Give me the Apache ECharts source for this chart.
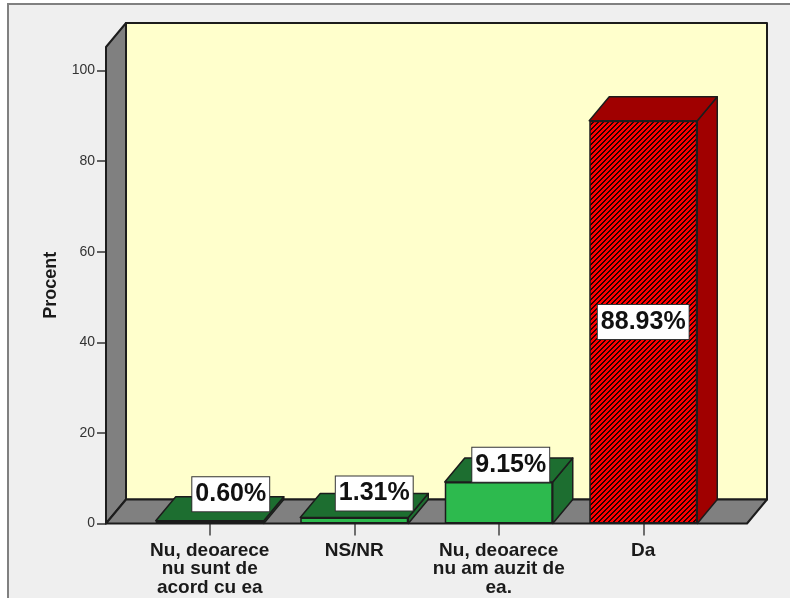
<!DOCTYPE html>
<html>
<head>
<meta charset="utf-8">
<style>
html, body { margin: 0; padding: 0; background: #fff; }
#chart { width: 790px; height: 598px; }
</style>
<script src="https://cdn.jsdelivr.net/npm/echarts@6/dist/echarts.min.js"></script>
</head>
<body>
<div id="chart"></div>
<script>
const categories = ['Nu, deoarece\nnu sunt de\nacord cu ea', 'NS/NR', 'Nu, deoarece\nnu am auzit de\nea.', 'Da']
const values = [0.60, 1.31, 9.15, 88.93]
const valueLabels = ['0.60%', '1.31%', '9.15%', '88.93%']
const yTicks = [0, 20, 40, 60, 80, 100]

// depth of the fake 3d box, in pixels
const depthX = 20
const depthY = -24
const edge = '#1c1c1c'

// data labels were moved by hand in the original
const labelNudge = [[21, -28], [20, -27], [12, -38], [0, 0]]

// red and black diagonal tile for the hatched bar
const makeHatch = () => {
    const tile = document.createElement('canvas')
    tile.width = 5
    tile.height = 5
    const ctx = tile.getContext('2d')
    ctx.fillStyle = '#ff0000'
    ctx.fillRect(0, 0, 5, 5)
    ctx.fillStyle = '#2a0000'
    for (let y = 0; y < 5; y++) {
        ctx.fillRect((4 - y + 5) % 5, y, 1, 1)
        ctx.fillRect((5 - y + 5) % 5, y, 1, 1)
    }
    return { image: tile, repeat: 'repeat' }
}

const barColors = [
    { front: '#2dba4e', dark: '#1d6e30' },
    { front: '#2dba4e', dark: '#1d6e30' },
    { front: '#2dba4e', dark: '#1d6e30' },
    { front: makeHatch(), dark: '#a00000' }
]

const poly = (points, fill, lineWidth = 1.5) => ({
    type: 'polygon',
    shape: { points },
    style: { fill, stroke: edge, lineWidth, lineJoin: 'round' }
})

// back wall, left wall and floor
const renderWalls = (params, api) => {
    const band = api.size([1, 0])[0]
    const x0 = api.coord([0, 0])[0] - band * 0.5 - 31.5
    const x1 = api.coord([3, 0])[0] + band * 0.5 + 31.5
    const yBottom = api.coord([0, 0])[1]
    const yTop = params.coordSys.y
    return {
        type: 'group',
        children: [
            poly([[x0 + depthX, yTop + depthY], [x1 + depthX, yTop + depthY], [x1 + depthX, yBottom + depthY], [x0 + depthX, yBottom + depthY]], '#ffffcc', 2),
            poly([[x0, yTop], [x0 + depthX, yTop + depthY], [x0 + depthX, yBottom + depthY], [x0, yBottom]], '#808080', 2),
            poly([[x0, yBottom], [x0 + depthX, yBottom + depthY], [x1 + depthX, yBottom + depthY], [x1, yBottom]], '#808080', 2)
        ]
    }
}

// top and right faces of each bar, the front is the bar series
const renderDepth = (params, api) => {
    const i = api.value(0)
    const p = api.coord([i, api.value(1)])
    const y0 = api.coord([i, 0])[1]
    const w = 108
    const l = p[0] - w / 2
    const r = p[0] + w / 2
    const c = barColors[i].dark
    return {
        type: 'group',
        children: [
            poly([[r, y0], [r + depthX, y0 + depthY], [r + depthX, p[1] + depthY], [r, p[1]]], c),
            poly([[l, p[1]], [l + depthX, p[1] + depthY], [r + depthX, p[1] + depthY], [r, p[1]]], c)
        ]
    }
}

const myChart = echarts.init(document.getElementById('chart'))
myChart.setOption({
    animation: false,
    backgroundColor: '#fff',
    graphic: [{
        type: 'rect',
        z: -10,
        shape: { x: 8, y: 4, width: 800, height: 610 },
        style: { fill: '#efefef', stroke: '#808080', lineWidth: 2 }
    }],
    grid: { left: 137.5, width: 578, top: 47, height: 476.5 },
    xAxis: {
        type: 'category',
        data: categories,
        axisLine: { show: false },
        axisTick: { show: true, alignWithLabel: true, length: 12, lineStyle: { color: '#444', width: 1.5 } },
        axisLabel: {
            interval: 0,
            margin: 18,
            fontFamily: 'Liberation Sans',
            fontWeight: 'bold',
            fontSize: 19,
            lineHeight: 18.5,
            color: '#1a1a1a'
        }
    },
    yAxis: {
        type: 'value',
        min: 0,
        max: 105.2,
        offset: 31.5,
        name: 'Procent',
        nameLocation: 'middle',
        nameGap: 46,
        nameTextStyle: { fontFamily: 'Liberation Sans', fontWeight: 'bold', fontSize: 18, color: '#1a1a1a' },
        splitLine: { show: false },
        axisLine: { show: false },
        axisTick: { show: true, length: 9, customValues: yTicks, lineStyle: { color: '#333', width: 1.5 } },
        axisLabel: { customValues: yTicks, margin: 11, padding: [4, 0, 0, 0], fontFamily: 'Liberation Sans', fontSize: 14, color: '#333' }
    },
    series: [
        {
            type: 'custom',
            z: 1,
            silent: true,
            data: [0],
            renderItem: renderWalls
        },
        {
            type: 'custom',
            z: 3,
            data: values.map((v, i) => [i, v]),
            encode: { x: 0, y: 1 },
            renderItem: renderDepth
        },
        {
            type: 'bar',
            z: 4,
            barWidth: 108,
            data: values.map((v, i) => ({
                value: v,
                itemStyle: {
                    color: barColors[i].front,
                    borderColor: edge,
                    borderWidth: 1.5
                },
                label: {
                    show: true,
                    position: 'inside',
                    offset: labelNudge[i],
                    formatter: valueLabels[i],
                    fontFamily: 'Liberation Sans',
                    fontWeight: 'bold',
                    fontSize: 25,
                    color: '#111',
                    backgroundColor: '#fff',
                    borderColor: '#333',
                    borderWidth: 1,
                    padding: [5, 3, 4, 3]
                }
            }))
        }
    ]
})
</script>
</body>
</html>
